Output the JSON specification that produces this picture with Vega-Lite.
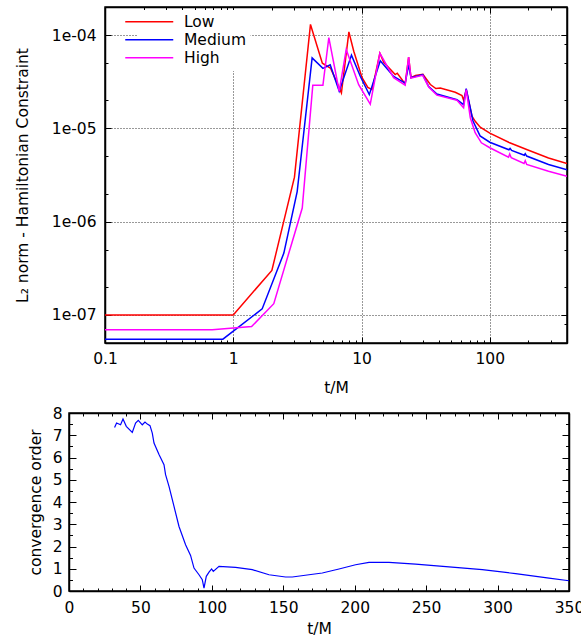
{
  "$schema": "https://vega.github.io/schema/vega-lite/v6.json",
  "padding": {"left": 3, "top": 5, "right": 0, "bottom": 0},
  "spacing": 8,
  "config": {
    "font": "DejaVu Sans",
    "view": {"stroke": "black", "strokeWidth": 1.5},
    "axis": {
      "labelFont": "DejaVu Sans", "labelFontSize": 15.5, "labelColor": "black",
      "titleFont": "DejaVu Sans", "titleFontSize": 15.5, "titleFontWeight": "normal", "titleColor": "black",
      "domain": true, "domainColor": "black", "domainWidth": 1.5,
      "ticks": true, "tickColor": "black", "tickWidth": 1, "tickOpacity": 1,
      "labelFlush": false, "labelOverlap": false, "labelBound": false, "grid": false
    }
  },
  "datasets": {
    "l2": [
      {"t": 0.1, "v": 1e-7, "res": "Low"},
      {"t": 1, "v": 1e-7, "res": "Low"},
      {"t": 2, "v": 3e-7, "res": "Low"},
      {"t": 3, "v": 3e-6, "res": "Low"},
      {"t": 4, "v": 1.3e-4, "res": "Low"},
      {"t": 4.95, "v": 5.0e-5, "res": "Low"},
      {"t": 5.75, "v": 4.4e-5, "res": "Low"},
      {"t": 6.97, "v": 2.4e-5, "res": "Low"},
      {"t": 7.97, "v": 1.08e-4, "res": "Low"},
      {"t": 8.7, "v": 6.7e-5, "res": "Low"},
      {"t": 10.1, "v": 3.5e-5, "res": "Low"},
      {"t": 11.2, "v": 2.75e-5, "res": "Low"},
      {"t": 12.1, "v": 2.6e-5, "res": "Low"},
      {"t": 13.9, "v": 6.4e-5, "res": "Low"},
      {"t": 14.9, "v": 5.1e-5, "res": "Low"},
      {"t": 18.3, "v": 3.77e-5, "res": "Low"},
      {"t": 19.0, "v": 3.9e-5, "res": "Low"},
      {"t": 21.9, "v": 3.0e-5, "res": "Low"},
      {"t": 23.3, "v": 5.8e-5, "res": "Low"},
      {"t": 24.3, "v": 3.5e-5, "res": "Low"},
      {"t": 26.3, "v": 3.7e-5, "res": "Low"},
      {"t": 30.1, "v": 3.8e-5, "res": "Low"},
      {"t": 34.4, "v": 2.95e-5, "res": "Low"},
      {"t": 38.0, "v": 2.67e-5, "res": "Low"},
      {"t": 41.1, "v": 2.7e-5, "res": "Low"},
      {"t": 53.8, "v": 2.44e-5, "res": "Low"},
      {"t": 60.7, "v": 2.25e-5, "res": "Low"},
      {"t": 62.5, "v": 2.0e-5, "res": "Low"},
      {"t": 65.5, "v": 2.6e-5, "res": "Low"},
      {"t": 72.6, "v": 1.35e-5, "res": "Low"},
      {"t": 77, "v": 1.19e-5, "res": "Low"},
      {"t": 84.2, "v": 1.03e-5, "res": "Low"},
      {"t": 100, "v": 8.9e-6, "res": "Low"},
      {"t": 143, "v": 7.0e-6, "res": "Low"},
      {"t": 196, "v": 5.9e-6, "res": "Low"},
      {"t": 287, "v": 4.82e-6, "res": "Low"},
      {"t": 400, "v": 4.2e-6, "res": "Low"},
      {"t": 0.1, "v": 5.5e-8, "res": "Medium"},
      {"t": 0.83, "v": 5.5e-8, "res": "Medium"},
      {"t": 1.68, "v": 1.16e-7, "res": "Medium"},
      {"t": 2.48, "v": 4.6e-7, "res": "Medium"},
      {"t": 3.15, "v": 2.1e-6, "res": "Medium"},
      {"t": 4.12, "v": 5.7e-5, "res": "Medium"},
      {"t": 5.0, "v": 4.4e-5, "res": "Medium"},
      {"t": 5.7, "v": 4.8e-5, "res": "Medium"},
      {"t": 6.7, "v": 2.5e-5, "res": "Medium"},
      {"t": 8.35, "v": 6.1e-5, "res": "Medium"},
      {"t": 9.8, "v": 3.6e-5, "res": "Medium"},
      {"t": 11.5, "v": 2.3e-5, "res": "Medium"},
      {"t": 14.0, "v": 5.3e-5, "res": "Medium"},
      {"t": 17.8, "v": 3.6e-5, "res": "Medium"},
      {"t": 21.9, "v": 3.06e-5, "res": "Medium"},
      {"t": 23.3, "v": 4.8e-5, "res": "Medium"},
      {"t": 24.3, "v": 3.5e-5, "res": "Medium"},
      {"t": 30, "v": 3.77e-5, "res": "Medium"},
      {"t": 33.4, "v": 2.8e-5, "res": "Medium"},
      {"t": 38.7, "v": 2.33e-5, "res": "Medium"},
      {"t": 55.5, "v": 2.03e-5, "res": "Medium"},
      {"t": 62.5, "v": 1.8e-5, "res": "Medium"},
      {"t": 65.5, "v": 2.67e-5, "res": "Medium"},
      {"t": 74, "v": 1.2e-5, "res": "Medium"},
      {"t": 84, "v": 8.3e-6, "res": "Medium"},
      {"t": 100, "v": 7.1e-6, "res": "Medium"},
      {"t": 141, "v": 5.9e-6, "res": "Medium"},
      {"t": 144, "v": 6.1e-6, "res": "Medium"},
      {"t": 148, "v": 5.8e-6, "res": "Medium"},
      {"t": 186, "v": 5.15e-6, "res": "Medium"},
      {"t": 189, "v": 5.35e-6, "res": "Medium"},
      {"t": 194, "v": 5.05e-6, "res": "Medium"},
      {"t": 287, "v": 4.1e-6, "res": "Medium"},
      {"t": 400, "v": 3.6e-6, "res": "Medium"},
      {"t": 0.1, "v": 6.95e-8, "res": "High"},
      {"t": 0.685, "v": 6.95e-8, "res": "High"},
      {"t": 1.39, "v": 7.5e-8, "res": "High"},
      {"t": 2.07, "v": 1.32e-7, "res": "High"},
      {"t": 2.84, "v": 5.7e-7, "res": "High"},
      {"t": 3.45, "v": 1.4e-6, "res": "High"},
      {"t": 4.17, "v": 2.9e-5, "res": "High"},
      {"t": 5.0, "v": 2.9e-5, "res": "High"},
      {"t": 5.56, "v": 9.4e-5, "res": "High"},
      {"t": 6.7, "v": 2.5e-5, "res": "High"},
      {"t": 7.6, "v": 7.0e-5, "res": "High"},
      {"t": 9.5, "v": 2.94e-5, "res": "High"},
      {"t": 11.7, "v": 1.82e-5, "res": "High"},
      {"t": 13.9, "v": 6.4e-5, "res": "High"},
      {"t": 17.8, "v": 3.5e-5, "res": "High"},
      {"t": 21.9, "v": 2.9e-5, "res": "High"},
      {"t": 23.3, "v": 5.8e-5, "res": "High"},
      {"t": 24.3, "v": 3.45e-5, "res": "High"},
      {"t": 30, "v": 3.7e-5, "res": "High"},
      {"t": 33.4, "v": 2.78e-5, "res": "High"},
      {"t": 38.7, "v": 2.27e-5, "res": "High"},
      {"t": 55.5, "v": 2.0e-5, "res": "High"},
      {"t": 62.5, "v": 1.66e-5, "res": "High"},
      {"t": 65.5, "v": 2.6e-5, "res": "High"},
      {"t": 70.5, "v": 1.3e-5, "res": "High"},
      {"t": 76.9, "v": 9.0e-6, "res": "High"},
      {"t": 86, "v": 7.0e-6, "res": "High"},
      {"t": 100, "v": 6.2e-6, "res": "High"},
      {"t": 140, "v": 4.9e-6, "res": "High"},
      {"t": 143, "v": 5.3e-6, "res": "High"},
      {"t": 147, "v": 4.85e-6, "res": "High"},
      {"t": 185, "v": 4.2e-6, "res": "High"},
      {"t": 189, "v": 4.5e-6, "res": "High"},
      {"t": 194, "v": 4.1e-6, "res": "High"},
      {"t": 287, "v": 3.47e-6, "res": "High"},
      {"t": 400, "v": 3.07e-6, "res": "High"}
    ],
    "conv": [
      {"t": 31.9, "order": 7.35},
      {"t": 33.3, "order": 7.55},
      {"t": 36.1, "order": 7.47},
      {"t": 37.8, "order": 7.73},
      {"t": 40.1, "order": 7.4},
      {"t": 44.3, "order": 7.13},
      {"t": 46.6, "order": 7.55},
      {"t": 48.5, "order": 7.67},
      {"t": 51.3, "order": 7.47},
      {"t": 53.2, "order": 7.59},
      {"t": 54.8, "order": 7.5},
      {"t": 56.7, "order": 7.43},
      {"t": 58.3, "order": 7.1},
      {"t": 59.5, "order": 6.65},
      {"t": 63.0, "order": 6.13},
      {"t": 66.5, "order": 5.68},
      {"t": 67.6, "order": 5.23},
      {"t": 70.0, "order": 4.7},
      {"t": 73.5, "order": 3.8},
      {"t": 77.0, "order": 2.9},
      {"t": 81.6, "order": 2.08},
      {"t": 85.1, "order": 1.6},
      {"t": 87.5, "order": 1.03},
      {"t": 91.0, "order": 0.73},
      {"t": 93.3, "order": 0.51},
      {"t": 94.5, "order": 0.13},
      {"t": 96.1, "order": 0.66},
      {"t": 98.0, "order": 0.85},
      {"t": 99.8, "order": 0.99},
      {"t": 101.0, "order": 0.88},
      {"t": 105.0, "order": 1.11},
      {"t": 116.6, "order": 1.06},
      {"t": 128.3, "order": 0.96},
      {"t": 140.0, "order": 0.73},
      {"t": 151.6, "order": 0.63},
      {"t": 156.3, "order": 0.63},
      {"t": 168.0, "order": 0.73},
      {"t": 177.3, "order": 0.81},
      {"t": 189.0, "order": 0.99},
      {"t": 200.6, "order": 1.18},
      {"t": 210.0, "order": 1.29},
      {"t": 224.0, "order": 1.29},
      {"t": 242.6, "order": 1.21},
      {"t": 266.0, "order": 1.08},
      {"t": 289.3, "order": 0.96},
      {"t": 312.6, "order": 0.78},
      {"t": 336.0, "order": 0.58},
      {"t": 350.0, "order": 0.46}
    ]
  },
  "vconcat": [
    {
      "spacing": 0,
      "hconcat": [
        {
          "width": 10.7, "height": 1,
          "view": {"stroke": null},
          "data": {"values": []},
          "mark": {"type": "point", "opacity": 0}
        },
        {
          "width": 462,
          "height": 336,
          "view": {"stroke": "black", "strokeWidth": 1.5},
          "data": {"name": "l2"},
          "layer": [
            {
              "mark": {"type": "line", "strokeWidth": 1.5, "clip": true},
              "encoding": {
                "x": {
                  "field": "t", "type": "quantitative",
                  "scale": {"type": "log", "domain": [0.1, 400], "nice": false},
                  "axis": {
                    "orient": "bottom", "title": "t/M",
                    "values": [0.1,0.2,0.3,0.4,0.5,0.6,0.7,0.8,0.9,1,2,3,4,5,6,7,8,9,10,20,30,40,50,60,70,80,90,100,200,300,400],
                    "labelExpr": "abs(log(datum.value)/LN10 - round(log(datum.value)/LN10)) < 0.001 ? format(datum.value, '~g') : ''",
                    "grid": true, "gridColor": "#333333", "gridDash": [1, 2], "gridWidth": 1,
                    "gridOpacity": {"condition": {"test": "abs(log(datum.value)/LN10 - round(log(datum.value)/LN10)) < 0.001", "value": 1}, "value": 0},
                    "tickSize": {"condition": {"test": "abs(log(datum.value)/LN10 - round(log(datum.value)/LN10)) < 0.001", "value": -6}, "value": -3},
                    "labelPadding": 14.5, "titlePadding": 10
                  }
                },
                "y": {
                  "field": "v", "type": "quantitative",
                  "scale": {"type": "log", "domain": [5e-8, 2e-4], "nice": false},
                  "axis": {
                    "orient": "left", "title": "L₂ norm - Hamiltonian Constraint",
                    "values": [1e-7, 2e-7, 5e-7, 1e-6, 2e-6, 5e-6, 1e-5, 2e-5, 5e-5, 1e-4],
                    "labelExpr": "abs(log(datum.value)/LN10 - round(log(datum.value)/LN10)) < 0.001 ? '1e-0' + (-round(log(datum.value)/LN10)) : ''",
                    "grid": true, "gridColor": "#333333", "gridDash": [1, 2], "gridWidth": 1,
                    "gridOpacity": {"condition": {"test": "abs(log(datum.value)/LN10 - round(log(datum.value)/LN10)) < 0.001", "value": 1}, "value": 0},
                    "tickSize": {"condition": {"test": "abs(log(datum.value)/LN10 - round(log(datum.value)/LN10)) < 0.001", "value": -6}, "value": -3},
                    "labelPadding": 15, "titlePadding": 21
                  }
                },
                "color": {
                  "field": "res", "type": "nominal",
                  "scale": {"domain": ["Low", "Medium", "High"], "range": ["#ff0000", "#0000ff", "#ff00ff"]},
                  "legend": {
                    "orient": "none", "legendX": 134.5, "legendY": 3, "title": null,
                    "symbolType": "M-4,0H4", "symbolSize": 144, "symbolStrokeWidth": 1.5,
                    "labelFont": "DejaVu Sans", "labelFontSize": 15.5, "labelColor": "black",
                    "labelOffset": 27, "fillColor": "white", "padding": 4, "rowPadding": 1
                  }
                }
              }
            },
            {
              "mark": {"type": "line", "strokeOpacity": 0},
              "encoding": {
                "x": {
                  "field": "t", "type": "quantitative",
                  "scale": {"type": "log", "domain": [0.1, 400], "nice": false},
                  "axis": {
                    "orient": "top", "title": null, "labels": false,
                    "values": [0.1,0.2,0.3,0.4,0.5,0.6,0.7,0.8,0.9,1,2,3,4,5,6,7,8,9,10,20,30,40,50,60,70,80,90,100,200,300,400],
                    "tickSize": {"condition": {"test": "abs(log(datum.value)/LN10 - round(log(datum.value)/LN10)) < 0.001", "value": -6}, "value": -3}
                  }
                },
                "y": {
                  "field": "v", "type": "quantitative",
                  "scale": {"type": "log", "domain": [5e-8, 2e-4], "nice": false},
                  "axis": {
                    "orient": "right", "title": null, "labels": false,
                    "values": [8e-8, 1e-7, 2e-7, 5e-7, 8e-7, 1e-6, 2e-6, 5e-6, 8e-6, 1e-5, 2e-5, 5e-5, 8e-5, 1e-4],
                    "tickSize": {"condition": {"test": "abs(log(datum.value)/LN10 - round(log(datum.value)/LN10)) < 0.001", "value": -6}, "value": -3}
                  }
                },
                "detail": {"field": "res", "type": "nominal"}
              }
            }
          ],
          "resolve": {"axis": {"x": "independent", "y": "independent"}}
        }
      ]
    },
    {
      "spacing": 0,
      "hconcat": [
        {
          "width": 23.7, "height": 1,
          "view": {"stroke": null},
          "data": {"values": []},
          "mark": {"type": "point", "opacity": 0}
        },
        {
          "width": 500,
          "height": 178,
          "view": {"stroke": "black", "strokeWidth": 1.5},
          "data": {"name": "conv"},
          "layer": [
            {
              "mark": {"type": "line", "color": "#0000ff", "strokeWidth": 1.2},
              "encoding": {
                "x": {
                  "field": "t", "type": "quantitative",
                  "scale": {"domain": [0, 350], "nice": false},
                  "axis": {
                    "orient": "bottom", "title": "t/M",
                    "values": [0,10,20,30,40,50,60,70,80,90,100,110,120,130,140,150,160,170,180,190,200,210,220,230,240,250,260,270,280,290,300,310,320,330,340,350],
                    "labelExpr": "datum.value % 50 == 0 ? datum.label : ''",
                    "tickSize": {"condition": {"test": "datum.value % 50 == 0", "value": -6}, "value": -3},
                    "labelPadding": 15, "titlePadding": 3
                  }
                },
                "y": {
                  "field": "order", "type": "quantitative",
                  "scale": {"domain": [0, 8], "nice": false},
                  "axis": {
                    "orient": "left", "title": "convergence order",
                    "values": [0,0.5,1,1.5,2,2.5,3,3.5,4,4.5,5,5.5,6,6.5,7,7.5,8],
                    "labelExpr": "datum.value % 1 == 0 ? format(datum.value, 'd') : ''",
                    "tickSize": {"condition": {"test": "datum.value % 1 == 0", "value": -7}, "value": -3.5},
                    "labelPadding": 14, "titlePadding": 9
                  }
                }
              }
            },
            {
              "mark": {"type": "line", "strokeOpacity": 0},
              "encoding": {
                "x": {
                  "field": "t", "type": "quantitative",
                  "scale": {"domain": [0, 350], "nice": false},
                  "axis": {
                    "orient": "top", "title": null, "labels": false,
                    "values": [0,10,20,30,40,50,60,70,80,90,100,110,120,130,140,150,160,170,180,190,200,210,220,230,240,250,260,270,280,290,300,310,320,330,340,350],
                    "tickSize": {"condition": {"test": "datum.value % 50 == 0", "value": -6}, "value": -3}
                  }
                },
                "y": {
                  "field": "order", "type": "quantitative",
                  "scale": {"domain": [0, 8], "nice": false},
                  "axis": {
                    "orient": "right", "title": null, "labels": false,
                    "values": [0,0.5,1,1.5,2,2.5,3,3.5,4,4.5,5,5.5,6,6.5,7,7.5,8],
                    "tickSize": {"condition": {"test": "datum.value % 1 == 0", "value": -7}, "value": -3.5}
                  }
                }
              }
            }
          ],
          "resolve": {"axis": {"x": "independent", "y": "independent"}}
        }
      ]
    }
  ]
}
